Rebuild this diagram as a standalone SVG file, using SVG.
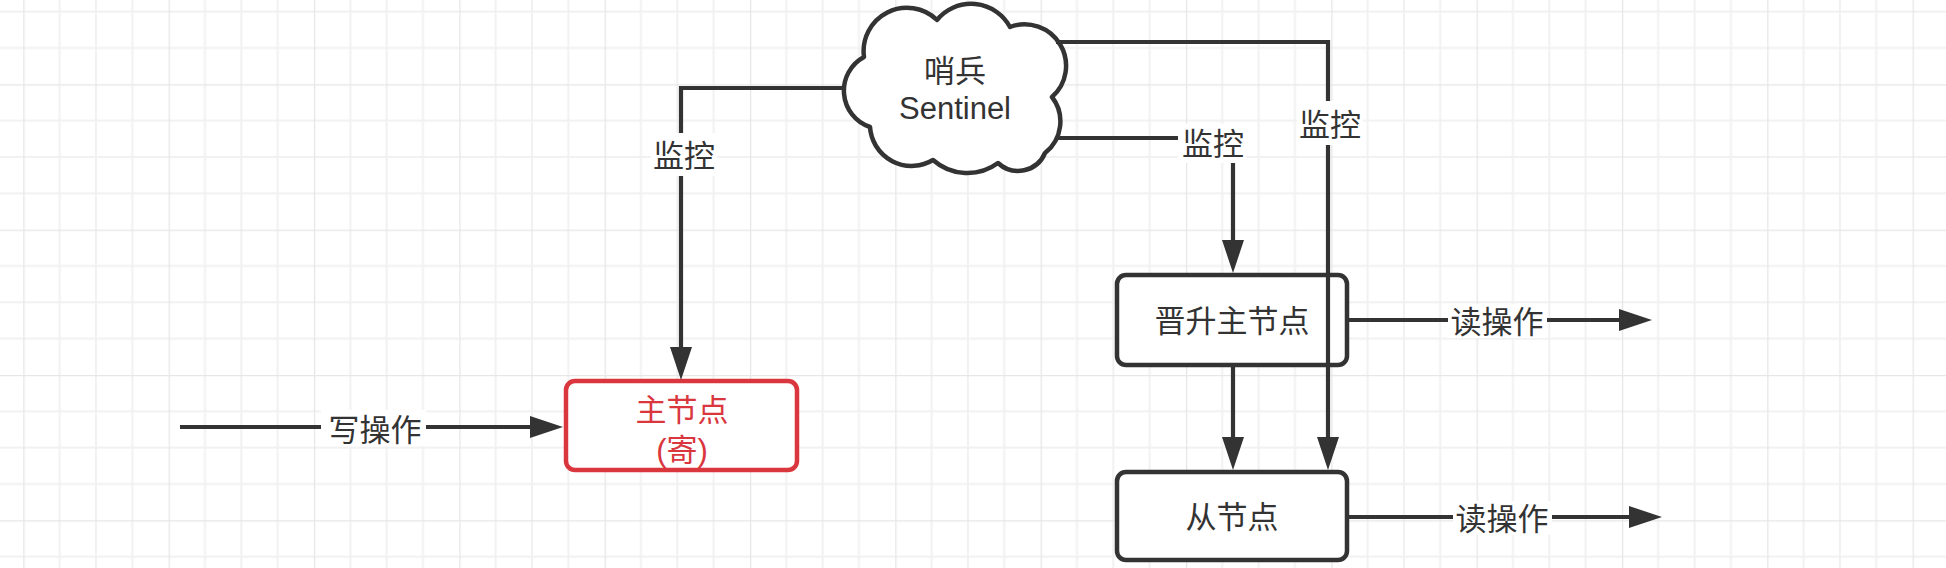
<svg xmlns="http://www.w3.org/2000/svg" width="1946" height="568" viewBox="0 0 1946 568">
  <defs>
    <pattern id="grid" patternUnits="userSpaceOnUse" x="23.3" y="84.3" width="145.33" height="145.33">
      <path d="M36.33,0 V145.33 M72.67,0 V145.33 M109,0 V145.33 M0,36.33 H145.33 M0,72.67 H145.33 M0,109 H145.33" stroke="#f1f1f1" stroke-width="2" fill="none"/>
      <path d="M0,0 V145.33 M0,0 H145.33" stroke="#e6e6e6" stroke-width="2.5" fill="none"/>
    </pattern>
    <marker id="arrow" viewBox="0 0 33 22" refX="0" refY="11" markerWidth="33" markerHeight="22" markerUnits="userSpaceOnUse" orient="auto">
      <path d="M0,0 L33,11 L0,22 Z" fill="#333333"/>
    </marker>
  </defs>
  <style>
    text { font-family: 'Liberation Sans', 'Noto Sans CJK SC', sans-serif; font-size: 31px; fill: #333333; text-anchor: middle; }
    .box { fill: #ffffff; stroke: #333333; stroke-width: 4.5; }
    .red { fill: #ffffff; stroke: #d9363e; stroke-width: 4.5; }
    .redtext { fill: #d9363e; }
    .edge { fill: none; stroke: #333333; stroke-width: 4.2; stroke-linejoin: miter; marker-end: url(#arrow); }
    .lbl { fill: #ffffff; }
  </style>
  <rect x="0" y="0" width="1946" height="568" fill="#ffffff"/>
  <rect x="0" y="0" width="1946" height="568" fill="url(#grid)"/>

  <g id="sentinel">
    <path d="M864,57 A43.3,43.3 0 0 1 937,20 A44.2,44.2 0 0 1 1010,27 A41.5,41.5 0 0 1 1052,97 A40,40 0 0 1 1045,153 A29.3,29.3 0 0 1 998,163 A51.7,51.7 0 0 1 933,160 A41.7,41.7 0 0 1 870,127 A38.3,38.3 0 0 1 864,57 Z" fill="#ffffff" stroke="#333333" stroke-width="4.5" stroke-linejoin="round"/>
    <text x="955" y="82">哨兵</text>
    <text x="955" y="119">Sentinel</text>
  </g>

  <g id="master">
    <rect class="red" x="566" y="381" width="231" height="89" rx="9"/>
    <text class="redtext" x="682" y="421">主节点</text>
    <text class="redtext" x="682" y="461">(寄)</text>
  </g>

  <g id="promoted">
    <rect class="box" x="1117" y="275" width="230" height="90" rx="9"/>
    <text x="1232" y="332">晋升主节点</text>
  </g>

  <g id="slave">
    <rect class="box" x="1117" y="472" width="230" height="88" rx="9"/>
    <text x="1232" y="528">从节点</text>
  </g>

  <g id="connectors">
    <path class="edge" d="M846,88 H681 V347"/>
    <path class="edge" d="M1055,138 H1233 V240"/>
    <path class="edge" d="M1056,42 H1328 V437"/>
    <path class="edge" d="M1233,365 V437"/>
    <path class="edge" d="M180,427 H530"/>
    <path class="edge" d="M1347,320 H1619"/>
    <path class="edge" d="M1347,517 H1629"/>

    <rect class="lbl" x="651" y="133" width="66" height="43"/>
    <text x="684" y="167">监控</text>
    <rect class="lbl" x="1178" y="124" width="68" height="39"/>
    <text x="1213" y="155">监控</text>
    <rect class="lbl" x="1297" y="101" width="66" height="44"/>
    <text x="1330" y="136">监控</text>
    <rect class="lbl" x="321" y="410" width="105" height="36"/>
    <text x="375" y="441">写操作</text>
    <rect class="lbl" x="1448" y="304" width="99" height="34"/>
    <text x="1497" y="333">读操作</text>
    <rect class="lbl" x="1453" y="501" width="99" height="34"/>
    <text x="1502" y="530">读操作</text>
  </g>
</svg>
